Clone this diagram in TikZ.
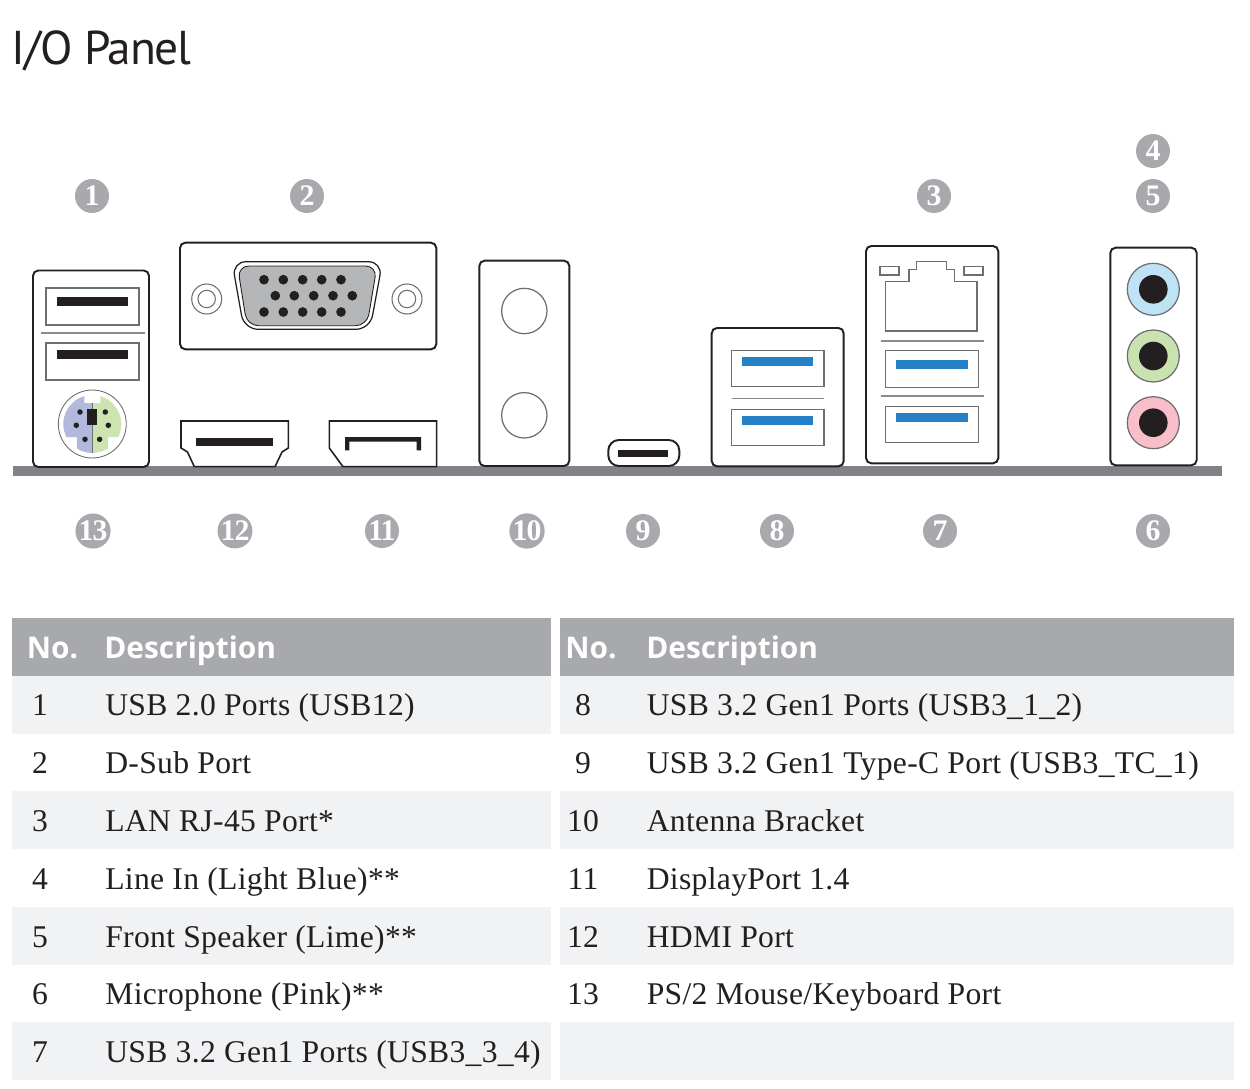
\documentclass[tikz,border=0pt]{standalone}
\usepackage{fontspec}
\usepackage{tikz}
\setmainfont{Liberation Serif}
\newfontfamily\titlefont[LetterSpace=-2.5]{PT Sans}
\newfontfamily\headfont{Open Sans}
\newfontfamily\descfont[LetterSpace=1]{Liberation Serif}
\newfontfamily\badgefont[LetterSpace=-3]{Liberation Serif}
\definecolor{bargray}{HTML}{808285}
\definecolor{headgray}{HTML}{A7A9AC}
\definecolor{rowgray}{HTML}{F1F2F3}
\definecolor{linegray}{HTML}{6D6E71}
\definecolor{usbblue}{HTML}{2580C5}
\definecolor{inkblack}{HTML}{231F20}
\begin{document}
\begin{tikzpicture}[x=0.02cm,y=-0.02cm,
  badge/.style={circle,fill=headgray,text=white,inner sep=0pt,minimum size=0.68cm,font=\fontsize{17}{17}\badgefont\bfseries},
  panel/.style={draw=inkblack,line width=1.1pt,fill=white,rounded corners=3pt},
  port/.style={draw=linegray,line width=0.7pt,fill=white},
  sep/.style={draw=linegray!80,line width=0.7pt},
  cellhead/.style={anchor=base west,inner sep=0pt,text=white,font=\fontsize{17}{17}\headfont\bfseries},
  cellnum/.style={anchor=base,inner sep=0pt,text=inkblack,font=\fontsize{18}{18}\descfont},
  celltext/.style={anchor=base west,inner sep=0pt,text=inkblack,font=\fontsize{18}{18}\descfont}]
  \useasboundingbox (0,0) rectangle (1250,1088);
  \node[anchor=base west,inner sep=0pt,text=inkblack,font=\fontsize{27}{27}\titlefont] (title) at (11.5,65) {I/O Panel};

  % base strip and port panels
  \fill[bargray] (13,466) rectangle (1222,476);
  \draw[panel] (33,270.5) rectangle (149,467);
  \draw[panel] (180,242.7) rectangle (436.3,349.3);
  \draw[panel] (479.3,260.7) rectangle (569.3,466);
  \draw[panel,rounded corners=6pt] (608.3,440) rectangle (679.3,466);
  \draw[panel] (711.7,328) rectangle (843.7,466.3);
  \draw[panel] (866,246) rectangle (998.3,463.3);
  \draw[panel] (1110.3,247.7) rectangle (1196.7,465.3);

  % USB 2.0
  \foreach \y/\t in {288/297,343/350} {
    \draw[port] (46,\y) rectangle (139,\y+37);
    \fill[inkblack] (57,\t) rectangle (128,\t+9);
  }
  \draw[sep] (41,333) -- (145,333);

  % PS/2
  \begin{scope}[shift={(92.3,424)}]
    \draw[draw=linegray,line width=0.5pt,fill=white] (0,0) circle[radius=0.68cm];
    \begin{scope}
      \clip (0,0) circle[radius=0.58cm];
      \fill[fill={rgb,255:red,179;green,185;blue,220}] (0,-21)--(-8,-21)--(-8,-40)--(-40,-40)--(-40,13)--(-15.5,13)--(-15.5,40)--(0,40)--cycle;
      \fill[fill={rgb,255:red,205;green,227;blue,176}] (0,-21)--(8,-21)--(8,-40)--(40,-40)--(40,13)--(15.5,13)--(15.5,40)--(0,40)--cycle;
    \end{scope}
    \draw[linegray,line width=0.4pt] (0,-21)--(0,29);
    \fill[inkblack] (-5.3,-15) rectangle (4.7,0.7);
    \foreach \x/\y in {-12.3/-12,13/-12,-16/1.3,16/1.3,-7.3/15.3,7.3/15.3}
      \fill[inkblack] (\x,\y) circle[radius=0.055cm];
  \end{scope}

  % D-Sub
  \foreach \x in {206.7,407} {
    \draw[draw=linegray,line width=0.6pt] (\x,299) circle[radius=0.3cm];
    \draw[draw=linegray,line width=0.6pt] (\x,299) circle[radius=0.175cm];
  }
  \draw[draw=inkblack,line width=0.7pt,rounded corners=8pt] (232,261.7)--(382.5,261.7)--(370,329.3)--(244,329.3)--cycle;
  \fill[fill=headgray!85,draw=inkblack,line width=0.5pt,rounded corners=6.5pt] (237.5,266)--(377,266)--(367,325.7)--(247,325.7)--cycle;
  \foreach \x in {264,283.3,302.7,321.7,341} {
    \fill[inkblack] (\x,279.7) circle[radius=0.097cm];
    \fill[inkblack] (\x,312) circle[radius=0.097cm];
  }
  \foreach \x in {275.3,294.3,313.7,333,352.3}
    \fill[inkblack] (\x,295.7) circle[radius=0.097cm];

  % HDMI and DisplayPort
  \draw[draw=inkblack,line width=0.9pt,fill=white] (181,421)--(288.3,421)--(288.3,448)--(282,452)--(275,466.7)--(194.3,466.7)--(187.5,452)--(181,448)--cycle;
  \fill[inkblack] (196.3,438) rectangle (273.3,446.3);
  \draw[draw=inkblack,line width=0.9pt,fill=white] (329.3,421)--(436.7,421)--(436.7,466.7)--(343,466.7)--(329.3,448)--cycle;
  \fill[inkblack] (345,437)--(421,437)--(421,450.3)--(416.7,450.3)--(416.7,441.7)--(349.3,441.7)--(349.3,450.3)--(345,450.3)--cycle;

  % antenna
  \foreach \y in {311,415.3}
    \draw[draw=linegray,line width=0.7pt] (524.3,\y) circle[radius=0.454cm];

  % Type-C
  \fill[inkblack] (618.3,450.3) rectangle (668.3,457);

  % USB 3.2 pair
  \foreach \y in {350.3,409.3} {
    \draw[port] (731.7,\y) rectangle (824,\y+36.4);
    \fill[usbblue] (742.3,\y+7) rectangle (813.3,\y+15.7);
  }
  \draw[sep] (731.7,398.3) -- (824,398.3);

  % LAN
  \draw[port] (885.7,281.7)--(909,281.7)--(909,269.7)--(916.7,269.7)--(916.7,261.7)--(946.7,261.7)--(946.7,269.7)--(954.3,269.7)--(954.3,281.7)--(977,281.7)--(977,331)--(885.7,331)--cycle;
  \draw[port] (880,266.7) rectangle (899,275);
  \draw[port] (964,266.7) rectangle (983,275);
  \foreach \y in {341,396}
    \draw[sep] (880.7,\y) -- (984.3,\y);
  \draw[port] (885.7,350.7) rectangle (978.3,387.3);
  \fill[usbblue] (896.3,360) rectangle (967.7,368.7);
  \draw[port] (885.7,406.3) rectangle (978.3,442.7);
  \fill[usbblue] (896.3,413.3) rectangle (967.7,422);

  % audio
  \foreach \y/\col in {289.3/{rgb,255:red,191;green,227;blue,246},356/{rgb,255:red,201;green,226;blue,176},422.7/{rgb,255:red,248;green,191;blue,202}} {
    \draw[draw=linegray,line width=0.7pt,fill={\col}] (1153.3,\y) circle[radius=0.52cm];
    \fill[inkblack] (1153.3,\y) circle[radius=0.286cm];
  }

  % number badges
  \foreach \n/\x/\y in {1/92/196,2/307/196,3/934/196,4/1153/151,5/1153/196,6/1153/531,7/940/531,8/777/531,9/643/531,10/527/531,11/382/531,12/235/531,13/93/531}
    \node[badge] (badge\n) at (\x,\y) {\n};

  % table
  \fill[headgray] (12,618) rectangle (551,676);
  \fill[headgray] (560,618) rectangle (1234,676);
  \foreach \y in {676,791,907,1022} {
    \fill[rowgray] (12,\y) rectangle (551,\y+57.5);
    \fill[rowgray] (560,\y) rectangle (1234,\y+57.5);
  }
  \node[cellhead] (noleft) at (26.5,658) {No.};
  \node[cellhead] (descleft) at (104,658) {Description};
  \node[cellhead] (noright) at (565,658) {No.};
  \node[cellhead] (descright) at (646,658) {Description};
  \foreach \n/\y/\txt in {1/715/{USB 2.0 Ports (USB12)},2/773/{D-Sub Port},3/831/{LAN RJ-45 Port*},4/889/{Line In (Light Blue)**},5/947/{Front Speaker (Lime)**},6/1004/{Microphone (Pink)**},7/1062/{USB 3.2 Gen1 Ports (USB3\_3\_4)}} {
    \node[cellnum] (num\n) at (40,\y) {\n};
    \node[celltext] (txt\n) at (105,\y) {\txt};
  }
  \foreach \n/\y/\txt in {8/715/{USB 3.2 Gen1 Ports (USB3\_1\_2)},9/773/{USB 3.2 Gen1 Type-C Port (USB3\_TC\_1)},10/831/{Antenna Bracket},11/889/{DisplayPort 1.4},12/947/{HDMI Port},13/1004/{PS/2 Mouse/Keyboard Port}} {
    \node[cellnum] (num\n) at (583,\y) {\n};
    \node[celltext] (txt\n) at (646.5,\y) {\txt};
  }
\end{tikzpicture}
\end{document}
